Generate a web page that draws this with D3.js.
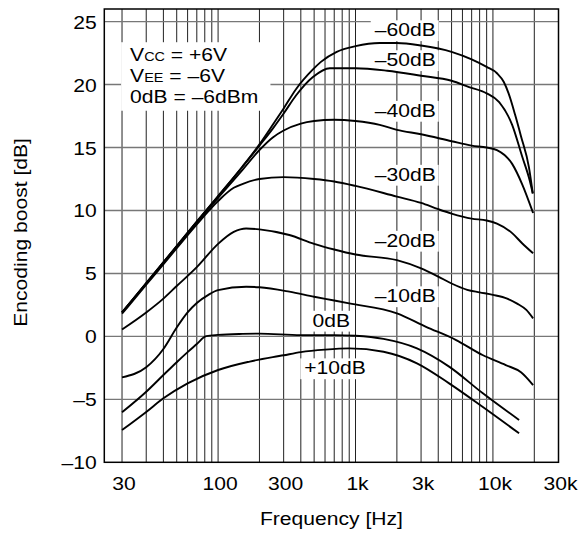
<!DOCTYPE html>
<html><head><meta charset="utf-8">
<script src="https://cdn.jsdelivr.net/npm/d3@7/dist/d3.min.js"></script>
<style>body{margin:0;background:#fff}svg{display:block}text{font-family:"Liberation Sans",Arial,Helvetica,sans-serif;fill:#000}</style>
</head><body>
<svg id="chart" width="578" height="535"></svg>
<script>
// ---------- data ----------
const yTicks = [-10, -5, 0, 5, 10, 15, 20, 25];
const yTickLabels = ["–10", "–5", "0", "5", "10", "15", "20", "25"];
const xGridFreqs = [20,30,40,50,60,70,80,90,100,200,300,400,500,600,700,800,900,1000,2000,3000,4000,5000,6000,7000,8000,9000,10000,20000];
const xTickFreqs = [20, 100, 300, 1000, 3000, 10000, 30000];
const xTickLabels = ["30", "100", "300", "1k", "3k", "10k", "30k"];

const fM60 = [20,30,50,70,100,150,200,250,300,370,490,560,730,1000,1500,2000,3000,5000,7000,9000,10700,12000,13000,14500,16000,18300,19500];
const vM60 = [1.9,4.23,7.17,9.11,11.14,13.47,15.25,16.8,18.1,19.65,21.2,21.8,22.6,23.05,23.3,23.3,23.1,22.6,22.0,21.4,20.9,20.2,19.3,17.6,15.9,13.4,11.35];

const fM50 = [20,30,50,70,100,150,200,250,300,370,490,650,1000,1700,3000,5000,6700,9000,11100,13800,16300,18500,19500];
const vM50 = [1.9,4.23,7.17,9.11,11.12,13.45,15.15,16.5,17.7,19.15,20.6,21.3,21.3,21.1,20.7,20.3,19.8,19.3,18.6,16.8,14.3,12.4,11.35];

const fM40 = [20,30,50,70,100,150,200,250,300,400,500,700,1000,1500,2000,3000,5000,7000,9000,10700,13800,16300,19600];
const vM40 = [1.9,4.2,7.12,9.05,11.0,13.2,14.8,15.8,16.35,16.9,17.1,17.2,17.1,16.8,16.4,16.05,15.5,15.15,15.0,14.8,13.7,12.1,9.8];

const fM30 = [20,30,50,70,100,130,150,200,300,500,700,1000,2000,3000,4000,5000,7000,9000,10700,13800,16300,19600];
const vM30 = [1.8,4.1,7.0,8.9,10.75,11.8,12.1,12.5,12.65,12.5,12.3,11.95,11.1,10.6,10.1,9.75,9.35,9.2,8.95,8.2,7.4,6.6];

const fM20 = [20,30,40,50,70,100,130,160,200,330,500,700,1000,2000,3000,4000,5000,6500,8000,10000,12700,15000,17500,19600];
const vM20 = [0.55,1.9,3.0,4.0,5.5,7.35,8.3,8.57,8.5,8.05,7.35,6.9,6.5,6.05,5.4,4.75,4.2,3.7,3.5,3.3,3.0,2.6,2.1,1.43];

const fM10 = [20,30,40,50,60,70,85,100,160,200,330,500,700,900,2000,3260,5400,8400,12400,16000,19600];
const vM10 = [-3.25,-2.45,-1.0,0.7,1.9,2.65,3.3,3.67,3.94,3.9,3.55,3.15,2.85,2.62,1.83,0.76,-0.29,-1.48,-2.28,-2.85,-3.87];

const fZ0 = [20,30,40,50,60,70,82,100,150,200,400,700,1000,1600,2800,4800,8400,15500];
const vZ0 = [-6.03,-4.4,-3.07,-2.05,-1.25,-0.6,0.02,0.12,0.2,0.22,0.1,0.1,0.05,-0.2,-0.95,-2.4,-4.5,-6.64];

const fP10 = [20,30,40,60,100,170,300,400,600,900,1600,2800,4800,8400,15500];
const vP10 = [-7.44,-6.0,-4.92,-3.73,-2.67,-2.0,-1.5,-1.25,-1.05,-0.95,-1.22,-2.14,-3.73,-5.59,-7.7];

const series = [
  {f: fM60, v: vM60}, {f: fM50, v: vM50}, {f: fM40, v: vM40}, {f: fM30, v: vM30},
  {f: fM20, v: vM20}, {f: fM10, v: vM10}, {f: fZ0, v: vZ0}, {f: fP10, v: vP10}
];

// curve labels: text, anchor frequency (Hz), baseline level (dB)
const curveLabels = [
  {t: "–60dB", f: 1380, db: 23.83},
  {t: "–50dB", f: 1380, db: 21.45},
  {t: "–40dB", f: 1380, db: 17.43},
  {t: "–30dB", f: 1380, db: 12.35},
  {t: "–20dB", f: 1380, db: 7.11},
  {t: "–10dB", f: 1380, db: 2.70},
  {t: "0dB",   f: 487,  db: 0.76},
  {t: "+10dB", f: 424,  db: -3.02}
];
const noteLines = [["V", "CC", " = +6V"], ["V", "EE", " = –6V"], ["0dB = –6dBm", "", ""]];
const noteAnchor = {f: 22.9, db: 21.85};

// ---------- layout ----------
const FS = 19, SX = 1.11;
const svg = d3.select("#chart");
const x = d3.scaleLog().domain([14.86, 30000]).range([104.3, 558.5]);
const y = d3.scaleLinear().domain([-10, 26]).range([462.3, 9]);
const [x0, x1] = x.range(), [y0, y1] = y.range();

function stext(parent, px, py, str, anchor, rot) {
  const g = parent.append("g")
    .attr("transform", `translate(${px},${py})${rot ? ` rotate(${rot})` : ""} scale(${SX},1)`);
  const t = g.append("text").attr("font-size", FS).attr("text-anchor", anchor || "start").text(str);
  return {g, t};
}

// grid
const grid = svg.append("g");
grid.selectAll("line.v").data(xGridFreqs).join("line")
  .attr("x1", d => x(d)).attr("x2", d => x(d)).attr("y1", y1).attr("y2", y0)
  .attr("stroke", "#222").attr("stroke-width", 1);
grid.selectAll("line.h").data(yTicks.filter(d => d > -10)).join("line")
  .attr("x1", x0).attr("x2", x1).attr("y1", d => y(d)).attr("y2", d => y(d))
  .attr("stroke", "#777").attr("stroke-width", 1.4);

// frame
svg.append("rect").attr("x", x0).attr("y", y1).attr("width", x1 - x0).attr("height", y0 - y1)
  .attr("fill", "none").attr("stroke", "#000").attr("stroke-width", 1.5);

// tick labels
yTicks.forEach((d, i) => stext(svg, 96.7, y(d) + 7, yTickLabels[i], "end"));
xTickFreqs.forEach((d, i) => stext(svg, x(d) + 2, 490, xTickLabels[i], "middle"));

// axis titles
stext(svg, (x0 + x1) / 2, 525, "Frequency [Hz]", "middle");
stext(svg, 27, 232.4, "Encoding boost [dB]", "middle", -90);

// note box
{
  const g = svg.append("g").attr("transform", `translate(${x(noteAnchor.f)},${y(noteAnchor.db)}) scale(${SX},1)`);
  const rect = g.append("rect").attr("fill", "#fff");
  noteLines.forEach((ln, i) => {
    const t = g.append("text").attr("font-size", FS).attr("y", i * 20.85);
    t.append("tspan").text(ln[0]);
    if (ln[1]) t.append("tspan").attr("font-size", 13).text(ln[1]);
    if (ln[2]) t.append("tspan").text(ln[2]);
  });
  const bb = g.node().getBBox();
  rect.attr("x", bb.x - 9 / SX).attr("y", bb.y - 2).attr("width", bb.width + 21 / SX).attr("height", bb.height + 6);
}

// curve labels with white backing
curveLabels.forEach(l => {
  const {g, t} = stext(svg, x(l.f), y(l.db), l.t, "start");
  const bb = t.node().getBBox();
  g.insert("rect", "text").attr("fill", "#fff")
    .attr("x", bb.x - 4 / SX).attr("y", bb.y + 1).attr("width", bb.width + 7 / SX).attr("height", bb.height);
});

// curves
const line = d3.line().x(d => x(d[0])).y(d => y(d[1])).curve(d3.curveMonotoneX);
svg.append("g").selectAll("path").data(series).join("path")
  .attr("d", s => line(s.f.map((f, i) => [f, s.v[i]])))
  .attr("fill", "none").attr("stroke", "#000").attr("stroke-width", 1.9)
  .attr("stroke-linejoin", "round").attr("stroke-linecap", "butt");
</script>
</body></html>
